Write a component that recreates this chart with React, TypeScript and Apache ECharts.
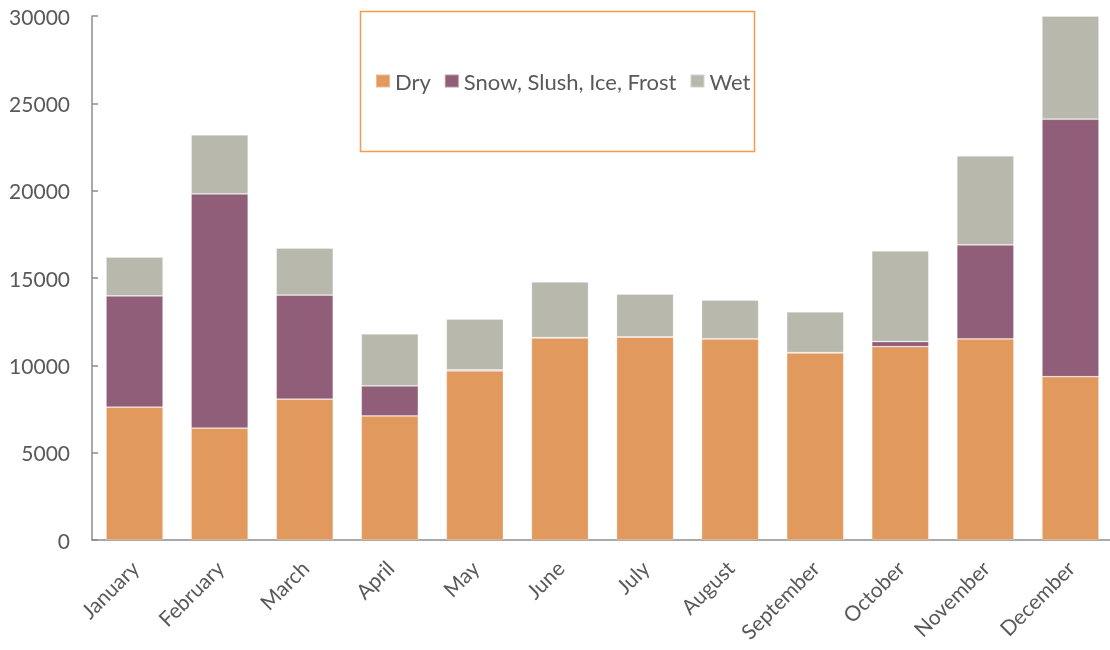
import React, { useEffect, useRef } from "react";
import * as echarts from "echarts";

const months = ["January", "February", "March", "April", "May", "June", "July", "August", "September", "October", "November", "December"];
const dry = [7610, 6410, 8070, 7100, 9680, 11570, 11620, 11510, 10710, 11070, 11510, 9350];
const snow = [6360, 13400, 5950, 1720, 60, 20, 10, 10, 20, 290, 5380, 14740];
const wet = [2230, 3380, 2690, 2980, 2910, 3190, 2450, 2220, 2330, 5190, 5100, 5910];
const seriesNames = ["Dry", "Snow, Slush, Ice, Frost", "Wet"];
const colors = ["#E2995E", "#905E78", "#B9B8AC"];

const FONT = "Lato, 'Open Sans', sans-serif";
const TEXT = "#595959";
const AXIS = "#8c8c8c";

export default function App() {
  const ref = useRef<HTMLDivElement>(null);
  useEffect(() => {
    if (!ref.current) return;
    const chart = echarts.init(ref.current, undefined, { renderer: "svg" });
    const data = [dry, snow, wet];
    chart.setOption({
      animation: false,
      color: colors,
      grid: { left: 92, right: 0, top: 16, bottom: 110, containLabel: false },
      legend: {
        left: 370,
        top: 65,
        itemWidth: 14,
        itemHeight: 13,
        itemGap: 13,
        icon: "rect",
        textStyle: { color: TEXT, fontSize: 22, fontFamily: FONT },
        data: seriesNames,
      },
      graphic: [
        {
          type: "rect",
          shape: { x: 360.5, y: 11.5, width: 394, height: 140 },
          style: { fill: "none", stroke: "#F79A4A", lineWidth: 1.5 },
          silent: true,
        },
      ],
      xAxis: {
        type: "category",
        data: months,
        axisLine: { lineStyle: { color: AXIS, width: 1.5 } },
        axisTick: { inside: true, length: 6, lineStyle: { color: AXIS, width: 1.5 } },
        axisLabel: { rotate: 45, color: TEXT, fontSize: 21, fontFamily: FONT, margin: 24, interval: 0 },
      },
      yAxis: {
        type: "value",
        min: 0,
        max: 30000,
        interval: 5000,
        splitLine: { show: false },
        axisLine: { show: true, lineStyle: { color: AXIS, width: 1.5 } },
        axisTick: { show: true, inside: true, length: 6, lineStyle: { color: AXIS, width: 1.5 } },
        axisLabel: { color: TEXT, fontSize: 21, fontFamily: FONT, margin: 22, formatter: (v: number) => String(v) },
      },
      series: seriesNames.map((name, i) => ({
        name,
        type: "bar",
        stack: "total",
        data: data[i],
        barCategoryGap: "33%",
        itemStyle: { color: colors[i], borderColor: "rgba(255,255,255,0.35)", borderWidth: 0.75 },
      })),
    });
    return () => chart.dispose();
  }, []);
  return <div ref={ref} style={{ position: "fixed", left: 0, top: 0, width: 1113, height: 650 }} />;
}
